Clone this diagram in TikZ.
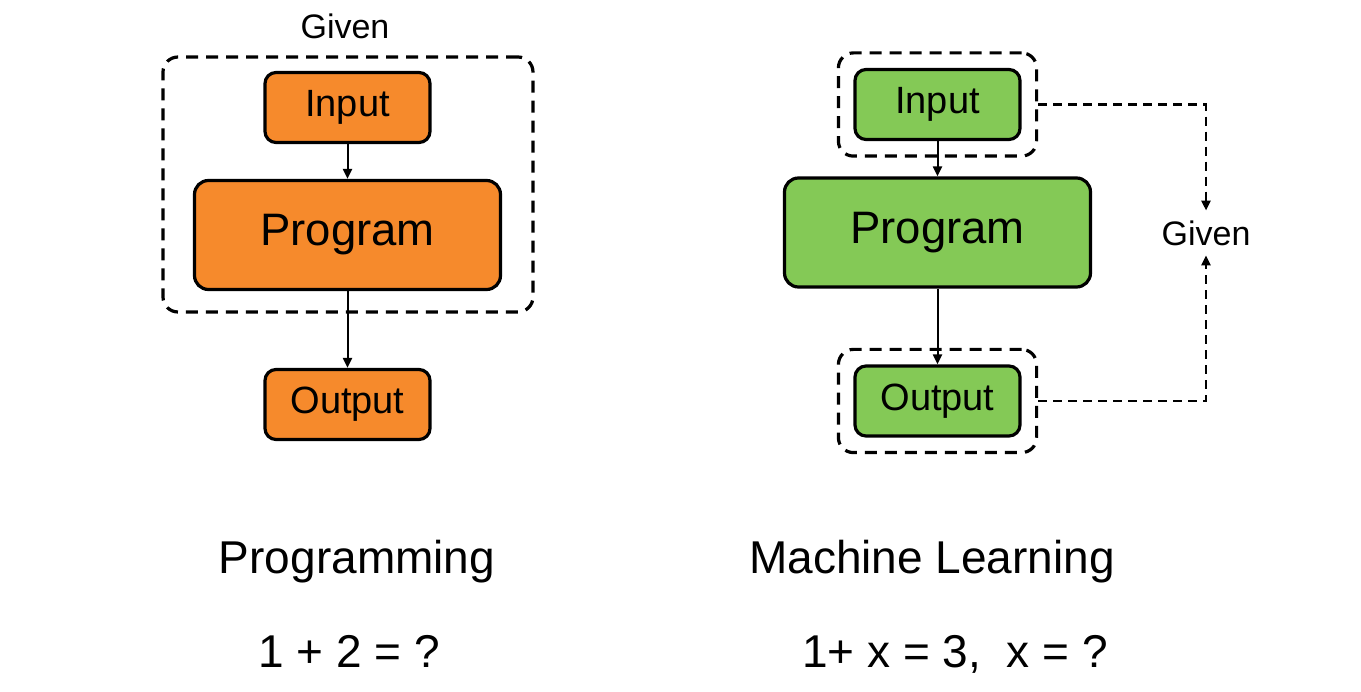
\documentclass[tikz,border=0pt]{standalone}
\usepackage{fontspec}
\setmainfont{Liberation Sans}
\usepackage{xcolor}
\usepackage{tikz}
\usetikzlibrary{arrows.meta, positioning, calc, fit}
\definecolor{progorange}{RGB}{246,138,44}
\definecolor{mlgreen}{RGB}{132,201,86}

\begin{document}
\begin{tikzpicture}[
  x=1pt, y=-1pt,
  io/.style={draw, line width=3.2pt, rounded corners=11pt, minimum width=165pt, minimum height=70pt, inner sep=0pt, font=\fontsize{38}{44}\selectfont},
  prog/.style={draw, line width=3.2pt, rounded corners=14pt, minimum width=306pt, minimum height=109pt, inner sep=0pt, font=\fontsize{45.5}{52}\selectfont},
  given/.style={draw, dashed, dash pattern=on 12pt off 8pt, line width=3.2pt, rounded corners=15pt},
  flow/.style={line width=2pt, -{Triangle[length=10pt, width=9pt]}},
  link/.style={line width=2.4pt, dash pattern=on 9pt off 6pt, -{Triangle[length=10pt, width=9pt]}},
  lbl/.style={font=\fontsize{34}{40}\selectfont},
  caption/.style={font=\fontsize{46}{52}\selectfont, anchor=base}
]
\useasboundingbox (0,0) rectangle (1361,692);

\node[io, fill=progorange] (lin) at (347.5,107.5) {Input};
\node[prog, fill=progorange] (lprog) at (347.5,235) {Program};
\node[io, fill=progorange] (lout) at (347.5,404.5) {Output};
\node[given, minimum width=370pt, minimum height=255pt] (lbox) at (348,184.5) {};
\node[lbl, above=13pt of lbox, xshift=-3pt] (lgiven) {Given};
\draw[flow] (lin) -- (lprog);
\draw[flow] (lprog) -- (lout);

\node[io, fill=mlgreen] (rin) at (937.5,104.5) {Input};
\node[prog, fill=mlgreen] (rprog) at (937.5,232.5) {Program};
\node[io, fill=mlgreen] (rout) at (937.5,401) {Output};
\node[given, fit=(rin), inner sep=15pt] (rinbox) {};
\node[given, fit=(rout), inner sep=15pt] (routbox) {};
\node[lbl, inner sep=4pt, outer sep=6pt] (rgiven) at (1206,233) {Given};
\draw[flow] (rin) -- (rprog);
\draw[flow] (rprog) -- (rout);
\draw[link] (rinbox.east) -| (rgiven.north);
\draw[link] (routbox.east) -| (rgiven.south);

\node[caption] (lcap) at (357,573) {Programming};
\node[caption] (leq) at (349,667) {1 + 2 = ?};
\node[caption] (rcap) at (932,573) {Machine Learning};
\node[caption] (req) at (955,667) {1+ x = 3,\ \ x = ?};
\end{tikzpicture}
\end{document}
